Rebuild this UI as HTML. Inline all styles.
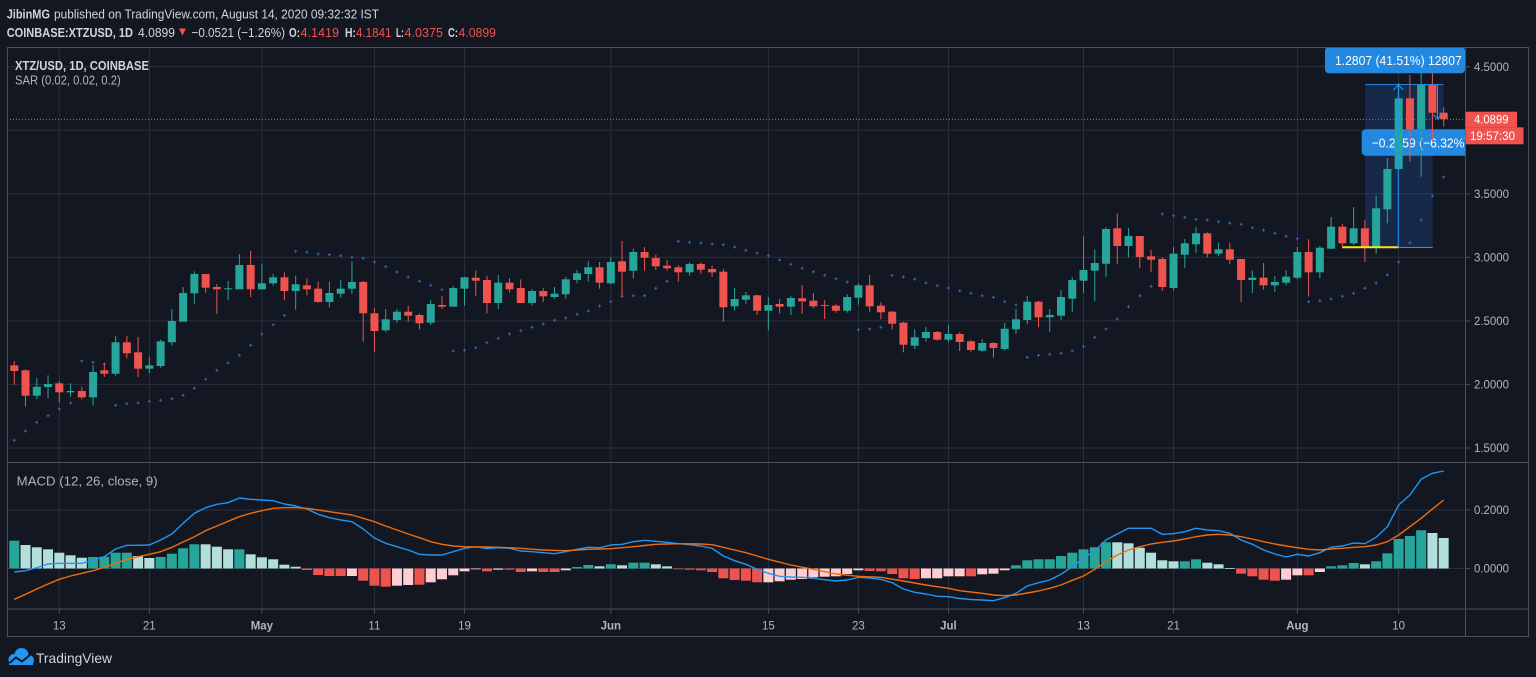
<!DOCTYPE html>
<html>
<head>
<meta charset="utf-8">
<style>
html,body{margin:0;padding:0;background:#131722;overflow:hidden;}
svg{display:block}
text{font-family:"Liberation Sans",Arial,sans-serif;}
</style>
</head>
<body>
<svg id="c" width="1536" height="677" viewBox="0 0 1536 677" xmlns="http://www.w3.org/2000/svg">
<rect width="1536" height="677" fill="#131722"/>
<defs>
<clipPath id="pp"><rect x="7" y="47.5" width="1458" height="415"/></clipPath>
<clipPath id="mp"><rect x="7" y="463" width="1458" height="146"/></clipPath>
</defs>

<!-- header -->
<text x="6.7" y="18.5" font-size="13" font-weight="bold" fill="#d1d4dc" textLength="43.3" lengthAdjust="spacingAndGlyphs">JibinMG</text>
<text x="54" y="18.5" font-size="13" fill="#d1d4dc" textLength="325" lengthAdjust="spacingAndGlyphs">published on TradingView.com, August 14, 2020 09:32:32 IST</text>

<text x="6.7" y="37" font-size="13" font-weight="bold" fill="#d1d4dc" textLength="126.3" lengthAdjust="spacingAndGlyphs">COINBASE:XTZUSD, 1D</text>
<text x="138" y="37" font-size="13" fill="#d1d4dc" textLength="37" lengthAdjust="spacingAndGlyphs">4.0899</text>
<polygon points="179,28.5 185.8,28.5 182.4,35.8" fill="#ef5350"/>
<text x="191.5" y="37" font-size="13" fill="#d1d4dc" textLength="93.5" lengthAdjust="spacingAndGlyphs">−0.0521 (−1.26%)</text>
<text x="289" y="37" font-size="13" font-weight="bold" fill="#d1d4dc" textLength="11" lengthAdjust="spacingAndGlyphs">O:</text>
<text x="300.5" y="37" font-size="13" fill="#ef5350" textLength="38.5" lengthAdjust="spacingAndGlyphs">4.1419</text>
<text x="345" y="37" font-size="13" font-weight="bold" fill="#d1d4dc" textLength="11" lengthAdjust="spacingAndGlyphs">H:</text>
<text x="356" y="37" font-size="13" fill="#ef5350" textLength="35.5" lengthAdjust="spacingAndGlyphs">4.1841</text>
<text x="396" y="37" font-size="13" font-weight="bold" fill="#d1d4dc" textLength="8" lengthAdjust="spacingAndGlyphs">L:</text>
<text x="404.5" y="37" font-size="13" fill="#ef5350" textLength="38.5" lengthAdjust="spacingAndGlyphs">4.0375</text>
<text x="448" y="37" font-size="13" font-weight="bold" fill="#d1d4dc" textLength="10" lengthAdjust="spacingAndGlyphs">C:</text>
<text x="458.5" y="37" font-size="13" fill="#ef5350" textLength="37.5" lengthAdjust="spacingAndGlyphs">4.0899</text>

<g id="gGrid"></g>
<g id="gBox" clip-path="url(#pp)"></g>
<g id="gLbl2" clip-path="url(#pp)">
  <rect x="1361.7" y="129.3" width="150" height="26.4" rx="4" fill="#2389e0"/>
  <text x="1371.7" y="147.5" font-size="13" fill="#ffffff" textLength="134" lengthAdjust="spacingAndGlyphs">−0.2559 (−6.32%) −2559</text>
</g>
<g id="gSar" clip-path="url(#pp)"></g>
<g id="gCand" clip-path="url(#pp)"></g>
<g id="gTop" clip-path="url(#pp)"></g>
<g id="gMacd" clip-path="url(#mp)"></g>
<g id="gFrame"></g>

<!-- legends -->
<text x="15" y="70" font-size="13" font-weight="bold" fill="#d1d4dc" textLength="134" lengthAdjust="spacingAndGlyphs">XTZ/USD, 1D, COINBASE</text>
<text x="15" y="84.5" font-size="13" fill="#b2b5be" textLength="105.7" lengthAdjust="spacingAndGlyphs">SAR (0.02, 0.02, 0.2)</text>
<text x="16.7" y="485.5" font-size="13" fill="#b2b5be" textLength="141" lengthAdjust="spacingAndGlyphs">MACD (12, 26, close, 9)</text>

<!-- price axis labels -->
<g font-size="11.5" fill="#b2b5be">
<text x="1474" y="71" textLength="35" lengthAdjust="spacingAndGlyphs">4.5000</text>
<text x="1474" y="198" textLength="35" lengthAdjust="spacingAndGlyphs">3.5000</text>
<text x="1474" y="261.5" textLength="35" lengthAdjust="spacingAndGlyphs">3.0000</text>
<text x="1474" y="325" textLength="35" lengthAdjust="spacingAndGlyphs">2.5000</text>
<text x="1474" y="388.5" textLength="35" lengthAdjust="spacingAndGlyphs">2.0000</text>
<text x="1474" y="452" textLength="35" lengthAdjust="spacingAndGlyphs">1.5000</text>
<text x="1474" y="514" textLength="35" lengthAdjust="spacingAndGlyphs">0.2000</text>
<text x="1474" y="572.5" textLength="35" lengthAdjust="spacingAndGlyphs">0.0000</text>
</g>
<rect x="1465.5" y="111.7" width="51.5" height="15.6" fill="#ef5350"/>
<text x="1474" y="123.6" font-size="11.5" fill="#ffffff" textLength="34.5" lengthAdjust="spacingAndGlyphs">4.0899</text>
<rect x="1465.5" y="127.3" width="58" height="17" fill="#ef5350"/>
<text x="1470" y="140.2" font-size="11.5" fill="#ffffff" textLength="45" lengthAdjust="spacingAndGlyphs">19:57:30</text>

<!-- time axis labels -->
<g font-size="11.5" fill="#b2b5be" text-anchor="middle">
<text x="59.3" y="629.5">13</text>
<text x="149.3" y="629.5">21</text>
<text x="261.9" y="629.5" font-weight="bold">May</text>
<text x="374.4" y="629.5">11</text>
<text x="464.5" y="629.5">19</text>
<text x="610.8" y="629.5" font-weight="bold">Jun</text>
<text x="768.4" y="629.5">15</text>
<text x="858.4" y="629.5">23</text>
<text x="948.4" y="629.5" font-weight="bold">Jul</text>
<text x="1083.5" y="629.5">13</text>
<text x="1173.5" y="629.5">21</text>
<text x="1297.4" y="629.5" font-weight="bold">Aug</text>
<text x="1398.6" y="629.5">10</text>
</g>

<!-- logo -->
<g>
  <circle cx="14" cy="659.5" r="5.5" fill="#2196f3"/>
  <circle cx="21.5" cy="655" r="7" fill="#2196f3"/>
  <circle cx="29" cy="660" r="5" fill="#2196f3"/>
  <rect x="9" y="659" width="24" height="6" fill="#2196f3"/>
  <polyline points="9.5,663 16,657.5 22,661.5 30,655" fill="none" stroke="#131722" stroke-width="2"/>
</g>
<text x="36" y="663" font-size="14" fill="#d1d4dc" textLength="76" lengthAdjust="spacingAndGlyphs">TradingView</text>

<script>
(function(){
const NS='http://www.w3.org/2000/svg';
function el(tag,a,p){const e=document.createElementNS(NS,tag);for(const k in a)e.setAttribute(k,a[k]);p.appendChild(e);return e;}
const $=id=>document.getElementById(id);
const X=d=>59.3+d*11.255;

// grid
const gG=$('gGrid');
const GC='#2c303c';
[66.7,130.2,193.8,257.3,320.9,384.4,448,510,568.5].forEach(y=>{
  el('line',{x1:7,x2:1465,y1:y,y2:y,stroke:GC,'stroke-width':1},gG);
});
[4,8,18,28,36,49,63,71,79,91,99,110,119].forEach(d=>{
  const x=X(d);
  el('line',{x1:x,x2:x,y1:47.5,y2:609,stroke:GC,'stroke-width':1},gG);
  el('line',{x1:x,x2:x,y1:609,y2:613.5,stroke:'#50535e','stroke-width':1},gG);
});
// fix: first grid line is day 0 (Apr 13), not day 4
gG.children[9].setAttribute('x1',X(0));gG.children[9].setAttribute('x2',X(0));
gG.children[10].setAttribute('x1',X(0));gG.children[10].setAttribute('x2',X(0));
// current price dotted line
el('line',{x1:7,x2:1465,y1:119.4,y2:119.4,stroke:'#ef5350','stroke-width':1,'stroke-dasharray':'1,2'},gG);

// measurement boxes
const gB=$('gBox');
el('rect',{x:1365,y:84.3,width:67.7,height:163,fill:'rgba(33,100,200,0.24)'},gB);
el('rect',{x:1432.7,y:84.3,width:10.7,height:35,fill:'rgba(33,100,200,0.24)'},gB);

const C=[
['R',365.3,371,361,384.7],['R',370.3,395.7,369.3,406.7],['G',386.7,395.7,378,399.3],['G',384,387,375.3,398.3],['R',383.3,392.3,381,402.7],
['G',391,392.3,383.3,396.7],['R',391,397.3,386.7,399.3],['G',372,397.3,365,405.7],['R',370.3,373.7,363.3,377],['G',342.3,373.7,336,375.7],
['R',342.3,353.3,336,358.3],['R',352.3,368.7,337,377],['G',365.3,368.7,356.7,373.3],['G',341.3,366,339.7,367.7],['G',321,342.3,309,345.7],
['G',293,321.7,287,321.7],['G',274,293.3,271.3,303.7],['R',274,287.7,274,292.7],['R',287,289.3,284,314],['G',288.3,289.3,281,300.3],
['G',265,289.3,254,289.3],['R',265,289.3,251,297],['G',283.3,289.3,263.7,289.3],['G',277.3,283.3,274,285.7],['R',277.3,291,272.3,300.3],
['G',284.3,291,275.7,309.7],['R',285.3,289.3,278.3,295.3],['R',288.7,302,281.7,302.7],['G',293,302,281.7,307.3],['G',288.7,293.7,280,297.7],
['G',282,288.7,261,293.7],['R',282,313.3,281,341.7],['R',313.3,331,308.3,351.7],['G',319.3,330.3,309,332],['G',311.7,320,309,322.7],
['R',311.7,315.7,305.7,321.7],['R',315,323.3,313.3,329.3],['G',304,322.7,300,325],['R',305,306.7,296,309],['G',288,306.7,286,306.7],
['G',277.3,288.7,276.7,305.7],['R',277.7,280.7,270.7,296],['R',280,303,275.7,313.3],['G',282.7,303,275,309],['R',282.7,289.3,278.3,292.7],
['R',288,303,279.3,303],['G',291,303,289.3,305.7],['R',291,296.3,288,302],['G',293.7,297,287,298.7],['G',279.3,294.3,276.7,298.7],
['G',273.3,280,270,283.3],['G',267.3,274,261,281.7],['R',267.3,282.7,262,288.7],['G',262,283.3,257.3,284.3],['R',261.3,271.7,241,297],
['G',252,270.7,248.7,278.3],['R',252,257.7,247,270.7],['R',258,266.3,254.7,270],['R',265.7,268.3,260.3,270.7],['R',267.3,272.3,265,281.7],
['G',264,272.3,262.3,275.7],['R',264,269.7,262.3,274],['R',269,272.3,265.7,276.7],['R',271.7,307.3,269,321.7],['G',299,306.3,288,310.7],
['G',295.3,299.7,292,303.7],['R',295.3,310.7,294.7,315],['G',305,310.7,297,330.3],['R',304,306.7,299,313.3],['G',298,306.7,296.3,315],
['R',298.3,301.3,285,314],['R',300.7,306.3,293,308.3],['R',305,306,300.3,319],['R',305.7,310.7,304.3,312.7],['G',297,310.7,294.3,312.7],
['G',285.3,297.7,283.3,304.7],['R',285.3,306.3,275,311.7],['R',305.7,312.3,302.3,319.3],['R',311.7,323.7,311,329.3],['R',322.7,344.7,321.7,352.3],
['G',337.3,345.7,329.3,349],['G',332,338,327,341.7],['R',332,339.7,331,340.7],['G',334,339.7,325,342.3],['R',334,342,332,351],
['R',341.3,350,340.3,351.7],['G',343,350.7,339,351.7],['R',343,348,342.3,357.7],['G',328.7,349,322.7,350.7],['G',319.3,329.3,309,333.7],
['G',301.7,320,296,324.3],['R',301.7,317.3,300.7,327],['G',315,317.3,309,332],['G',297,315.7,290,320],['G',280,298.7,277.3,311.7],
['G',270,280.7,236.5,292.7],['G',263,270.7,249.2,301.3],['G',229,263.7,227.3,276.7],['R',228.3,246,213.7,263.7],['G',236,246,228,257.3],
['R',236,257,236,268.3],['R',256.3,259.7,249.7,272.3],['R',259,287,257.3,291],['G',253.7,288,247,290.3],['G',243.3,254.7,239,268],
['G',233.3,244.3,227.3,252.7],['R',233.3,253.7,232.3,257.3],['G',249.3,253.7,242.7,256],['R',249.3,259.7,242.7,263.7],['R',259,280,259,302.3],
['G',277.7,280,270.7,293],['R',277.7,285.3,263,289.7],['G',282,285.3,276,292],['G',276.7,282.7,270,285.3],['G',252,277.7,247,279.3],
['R',252,272.3,239.3,296.3],['G',247.7,272.3,246,278.3],['G',226.7,248.7,217,248.7],['R',226.7,243.3,224,248.3],['G',228.3,243.3,207,245],
['R',228.3,247.7,220.3,262],['G',208.3,247.7,196,253.7],['G',169,209.3,158.3,223.3],['G',98.3,169,83.3,170],['R',98.3,129.3,75,161.7],
['G',85,129.3,70.7,176.7],['R',84.3,112.7,68.3,140],['R',112.7,119,107.3,126.7]
];
const S=[440.3,431,422.3,415.7,409,
403,361,362.3,364,405.3,403.7,403,401.3,400.3,398.7,
395.3,388.3,379.3,370.3,363,355.3,345.3,334,324.7,315.3,
251.3,252.3,254,254.7,255.7,257.3,258.3,262,266.7,272,
277,281.3,285.3,289.7,351,350.3,347.7,342.7,338.3,334,
330.7,327.3,324,320.3,318,314.3,311,306,301.7,296.3,
295.7,295.7,288.3,281.3,241.3,242.3,243,244,244.7,247,
250.3,253,255.7,260,264.3,268.3,271.7,275.3,278.7,282,
329.7,329,327.3,275.3,277,279.3,283,285.7,288,290.7,
293.3,295.7,297.3,301.7,305,357.3,355.3,354.3,353.3,351,
346.7,337.3,329,319,306.7,295.7,286.3,214,215.7,217.3,
219.3,220,221.7,223.3,224.3,227.7,230.3,233.3,236.3,238.7,
301.7,300.7,299,296.3,293.3,288.3,283,275,262,242.7,
220,196,177];
const H=[[540.7,'D'],[545,'L'],[547.3,'L'],[549.3,'L'],[552.7,'L'],
[555.3,'L'],[557.7,'L'],[557,'D'],[556.7,'D'],[552.7,'D'],[552.7,'D'],[556,'L'],[558,'L'],[557,'D'],[553.7,'D'],
[548.3,'D'],[544.3,'D'],[544.3,'L'],[546.7,'L'],[549.3,'L'],[549.3,'D'],[554.3,'L'],[557.3,'L'],[559.3,'L'],[564.7,'L'],
[566.7,'L'],[570,'R'],[575,'R'],[576,'R'],[576,'R'],[576,'P'],[580.7,'R'],[585.7,'R'],[586.7,'R'],[585.7,'P'],
[585,'P'],[584.7,'R'],[582.3,'P'],[579.3,'P'],[575.3,'P'],[571.3,'P'],[569.3,'P'],[571.3,'R'],[569.7,'P'],[569.7,'R'],
[572,'R'],[571.3,'P'],[572,'R'],[572,'R'],[570.3,'P'],[567,'D'],[565,'D'],[566.3,'L'],[564.3,'D'],[565.3,'L'],
[562.7,'D'],[562.7,'D'],[564.3,'L'],[566.3,'L'],[568.7,'R'],[569.7,'R'],[570.3,'R'],[572,'R'],[578.3,'R'],[580,'R'],
[580.7,'R'],[582.3,'R'],[582.3,'P'],[581.3,'P'],[579.7,'P'],[579,'P'],[577.3,'P'],[576.7,'P'],[576.3,'P'],[574,'P'],
[570.3,'P'],[571,'R'],[571.3,'R'],[574,'R'],[578.3,'R'],[579,'R'],[578.3,'P'],[578.3,'P'],[576.3,'P'],[576.3,'P'],
[576.3,'R'],[574.3,'P'],[573.7,'P'],[570.3,'P'],[565.3,'D'],[560.3,'D'],[559.3,'D'],[559.3,'D'],[556,'D'],[552.7,'D'],
[549.3,'D'],[547.3,'D'],[542.3,'D'],[542.3,'L'],[543.3,'L'],[547.7,'L'],[552.7,'L'],[560.3,'L'],[561.3,'L'],[561.3,'D'],
[559.3,'D'],[562.7,'L'],[564.3,'L'],[568,'L'],[573.7,'R'],[576.3,'R'],[579.7,'R'],[580.7,'R'],[579.7,'P'],[575.3,'P'],
[575.3,'R'],[572,'P'],[566.3,'D'],[565.3,'D'],[563,'D'],[564.3,'L'],[561.3,'D'],[553.3,'D'],[539,'D'],[536,'D'],
[530.3,'D'],[533,'L'],[538,'L']];
const B=[572,570.7,567.7,564,563.3,
563.3,563.3,560,556.7,549,545.3,545.3,545,540,534,
523.3,513.3,507.7,504.3,502.7,498,499.3,500,500.7,504,
506,509,514.3,517.7,520,521.7,529,538,543.3,546.7,
550,554.3,555,555,551.7,548.3,546.7,548.5,547.7,548.3,
551,551.7,552.7,553.7,551.7,549.3,547.3,547.7,545,544.3,
541.7,540.3,541.3,542.3,543.7,544.7,546,548.3,556,560.7,
564.3,569.3,573.3,576.3,577,577.3,578.3,579.7,581,580,
577.3,578,579.3,582.7,589,592.3,594,596.3,596.7,598.5,
599.5,600,600.7,597.7,593.3,586,582.7,580,574.3,566.7,
558.3,551,540,534,528.3,528.3,528.3,534.3,533.7,531.7,
528.3,530,530.7,533.3,540,544.3,550,554,557,554.3,
556,552.7,547.3,546,543,543.7,537.3,526.7,505,495,
479.3,473.3,471];
const O=[599.3,594.3,589,584,579.3,
576,573.3,570.7,567.3,563.3,559.3,556.7,554.3,551.7,547.3,
542,536.7,530.7,526,521.3,516.7,513.3,510.7,508.3,507.7,
507.7,508.3,510,511.7,513.3,515,518.3,521.7,526,530,
534,537.7,541.7,544.3,546,546.7,547,547,547.3,547.7,
548.3,549.2,550,550.4,550.7,550,549.3,549,548.7,547.7,
546.7,545.5,544.3,544,543.7,543.8,544,544.7,547.3,550,
552.7,556,559.3,562.2,565,567.2,569.3,571.7,574,575.2,
576.3,576.8,577.3,579.2,581,583,585,586.7,588.3,590.7,
592,593.3,595,595.7,595,593,591,588.3,585,580.3,
576,569.3,561.7,555,550,546.7,544,542.3,541,539,
536.7,535,534.3,535,536.7,539,541.7,544,546,547.7,
549.3,550,549,548.3,547.3,546.7,545,541.7,535,526.7,
518.3,509,500];

const GREEN='#26a69a',RED='#ef5350';
const gC=$('gCand'),gS=$('gSar'),gM=$('gMacd');
C.forEach((c,i)=>{
  const x=X(i-4),col=c[0]==='G'?GREEN:RED;
  el('rect',{x:(x-0.5).toFixed(2),y:c[3],width:1,height:Math.max(1,c[4]-c[3]).toFixed(2),fill:col},gC);
  el('rect',{x:(x-4).toFixed(2),y:c[1],width:8,height:Math.max(1,c[2]-c[1]).toFixed(2),fill:col},gC);
});
S.forEach((y,i)=>{
  const x=X(i-4);
  el('path',{d:`M${(x-1.5).toFixed(2)} ${y}h3M${x.toFixed(2)} ${y-1.5}v3`,stroke:'#3568b8','stroke-width':1,fill:'none'},gS);
});
const Z=568.5;
const HC={D:'#26a69a',L:'#b2dfdb',R:'#ef5350',P:'#ffcdd2'};
H.forEach((h,i)=>{
  const x=X(i-4),v=h[0];
  el('rect',{x:(x-5).toFixed(2),y:Math.min(v,Z),width:10,height:Math.max(0.8,Math.abs(v-Z)).toFixed(2),fill:HC[h[1]]},gM);
});
const pts=a=>a.map((y,i)=>X(i-4).toFixed(2)+','+y).join(' ');
el('polyline',{points:pts(B),fill:'none',stroke:'#2196f3','stroke-width':1.4,'stroke-linejoin':'round'},gM);
el('polyline',{points:pts(O),fill:'none',stroke:'#ef6c0c','stroke-width':1.4,'stroke-linejoin':'round'},gM);

// top measurement drawings
const gT=$('gTop');
el('line',{x1:1365,x2:1443.4,y1:84.5,y2:84.5,stroke:'#2a7fd8','stroke-width':1},gT);
el('line',{x1:1398.3,x2:1398.3,y1:84.5,y2:247.3,stroke:'#2196f3','stroke-width':1},gT);
el('polyline',{points:'1393.3,90 1398.3,84.8 1403.3,90',fill:'none',stroke:'#2196f3','stroke-width':1},gT);
el('line',{x1:1437.5,x2:1437.5,y1:84.5,y2:119,stroke:'#2196f3','stroke-width':1},gT);
el('polyline',{points:'1433.5,114.5 1437.5,119 1441.5,114.5',fill:'none',stroke:'#2196f3','stroke-width':1},gT);
el('line',{x1:1342.7,x2:1398.3,y1:247.3,y2:247.3,stroke:'#f5e52a','stroke-width':2},gT);
el('line',{x1:1398.3,x2:1432.7,y1:247.5,y2:247.5,stroke:'#2196f3','stroke-width':1},gT);
el('rect',{x:1325,y:46.7,width:140,height:26.6,rx:4,fill:'#2389e0'},gT);
const t=el('text',{x:1335,y:64.8,'font-size':13,fill:'#ffffff',textLength:126.7,lengthAdjust:'spacingAndGlyphs'},gT);
t.textContent='1.2807 (41.51%) 12807';

// frame
const gF=$('gFrame'),FC='#4b4f5b';
[[7,47.5,1528.5,47.5],[7,636.5,1528.5,636.5],[7.5,47,7.5,637],[1528.5,47,1528.5,637],
 [1465.5,47,1465.5,637],[7,462.5,1528.5,462.5],[7,609,1528.5,609]].forEach(l=>{
  el('line',{x1:l[0],y1:l[1],x2:l[2],y2:l[3],stroke:FC,'stroke-width':1},gF);
});
[66.7,193.8,257.3,320.9,384.4,448,510,568.5].forEach(y=>{
  el('line',{x1:1465.5,x2:1470,y1:y,y2:y,stroke:FC,'stroke-width':1},gF);
});
})();
</script>
</svg>
</body>
</html>
